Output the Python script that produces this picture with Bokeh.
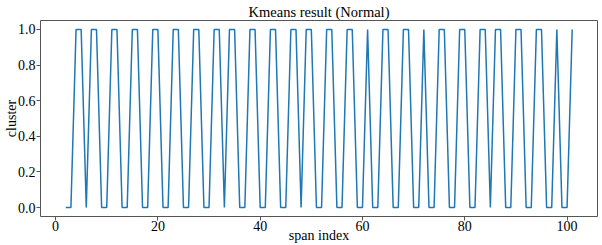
from bokeh.plotting import figure
from bokeh.models import Range1d, FixedTicker, CustomJSTickFormatter
from bokeh.embed import file_html
from bokeh.resources import INLINE

span_index = list(range(2, 102))
cluster = [0, 0, 1, 1, 0, 1, 1, 0, 0, 1, 1, 0, 0, 1, 1, 0, 0, 1, 1, 0,   # 2..21
           0, 1, 1, 0, 0, 1, 1, 0, 0, 1, 1, 0, 1, 1, 0, 0, 1, 1, 0, 0,   # 22..41
           1, 1, 0, 0, 1, 1, 0, 1, 1, 0, 0, 1, 1, 0, 0, 1, 1, 0, 0, 1,   # 42..61
           0, 0, 1, 1, 0, 0, 1, 1, 0, 0, 1, 0, 0, 1, 1, 0, 0, 1, 1, 0,   # 62..81
           0, 1, 1, 0, 1, 1, 0, 0, 1, 1, 0, 0, 1, 1, 0, 0, 1, 0, 0, 1]   # 82..101
x_ticks = [0, 20, 40, 60, 80, 100]
y_ticks = [0.0, 0.2, 0.4, 0.6, 0.8, 1.0]
title_text = "Kmeans result (Normal)"
x_label = "span index"
y_label = "cluster"

FONT = "Liberation Serif"

p = figure(width=602, height=245, output_backend="svg", toolbar_location=None,
           x_range=Range1d(-2.95, 105.95), y_range=Range1d(-0.05, 1.05),
           title=title_text,
           min_border_left=39, min_border_right=5, min_border_top=19, min_border_bottom=29)

p.line(span_index, cluster, line_color="#1f77b4", line_width=1.5)

p.title.align = "center"
p.title.text_font = FONT
p.title.text_font_size = "14.5px"
p.title.text_font_style = "normal"
p.title.text_color = "black"
p.title.standoff = 2

p.xgrid.visible = False
p.ygrid.visible = False
p.outline_line_color = "#555555"
p.outline_line_width = 1
p.background_fill_color = "white"
p.border_fill_color = "white"

for ax in (p.xaxis[0], p.yaxis[0]):
    ax.axis_line_color = None
    ax.major_tick_line_color = "#555555"
    ax.major_tick_out = 4
    ax.major_tick_in = 0
    ax.minor_tick_line_color = None
    ax.major_label_text_font = FONT
    ax.major_label_text_font_size = "14px"
    ax.major_label_text_color = "black"
    ax.axis_label_text_font = FONT
    ax.axis_label_text_font_size = "14px"
    ax.axis_label_text_font_style = "normal"
    ax.axis_label_text_color = "black"

p.xaxis.major_label_standoff = 0
p.yaxis.major_label_standoff = 1
p.xaxis.axis_label_standoff = -6
p.yaxis.axis_label_standoff = -4

p.xaxis.ticker = FixedTicker(ticks=x_ticks)
p.yaxis.ticker = FixedTicker(ticks=y_ticks)
p.yaxis.formatter = CustomJSTickFormatter(code="return tick.toFixed(1);")
p.xaxis.axis_label = x_label
p.yaxis.axis_label = y_label

open("out.html", "w").write(file_html(p, INLINE))
